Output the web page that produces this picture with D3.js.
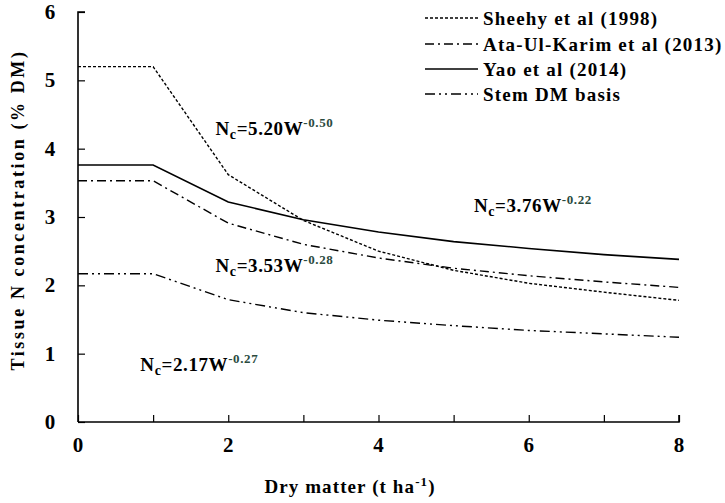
<!DOCTYPE html>
<html><head><meta charset="utf-8">
<script src="https://cdn.jsdelivr.net/npm/d3@7"></script>
<style>body{margin:0;background:#fff}svg{display:block}</style>
</head><body>
<svg id="c" width="725" height="503"></svg>
<script>
const dryMatter = [0,1,2,3,4,5,6,7,8];
const sheehy = [5.20,5.20,3.62,2.95,2.50,2.22,2.03,1.90,1.78];
const ataUlKarim = [3.53,3.53,2.91,2.60,2.40,2.25,2.14,2.05,1.97];
const yao = [3.76,3.76,3.22,2.96,2.78,2.64,2.54,2.45,2.38];
const stemDM = [2.17,2.17,1.79,1.60,1.49,1.41,1.34,1.29,1.24];
const seriesNames = ["Sheehy et al (1998)","Ata-Ul-Karim et al (2013)","Yao  et al (2014)","Stem DM basis"];
const xTicks = [0,2,4,6,8];
const yTicks = [0,1,2,3,4,5,6];
const equations = [["2.17","-0.27",0.83,0.75],["3.53","-0.28",1.83,2.2],["5.20","-0.50",1.83,4.2],["3.76","-0.22",5.27,3.07]];

const FONT = "Liberation Serif";
const dashes = ["3,2","9,4,2,4","none","10,4,2,4,2,4"];
const allSeries = [sheehy, ataUlKarim, yao, stemDM];

const svg = d3.select("#c");
const x = d3.scaleLinear().domain([0,8]).range([78,679]);
const y = d3.scaleLinear().domain([0,6]).range([422,12]);

// axes
const gx = svg.append("g").attr("transform","translate(0,422)")
  .call(d3.axisTop(x).ticks(8).tickSize(7).tickFormat(""));
const gy = svg.append("g").attr("transform","translate(78,0)")
  .call(d3.axisRight(y).tickValues(yTicks).tickSize(7).tickFormat(""));
[gx,gy].forEach(g=>{g.select(".domain").attr("stroke","#000").attr("stroke-width",1.6);
  g.selectAll(".tick line").attr("stroke","#000").attr("stroke-width",1.2);});
gx.select(".domain").attr("d","M78,0H679V-7");
gy.select(".domain").attr("d","M7,12H0V422");

svg.selectAll(".xl").data(xTicks).enter().append("text")
  .attr("x",d=>x(d)).attr("y",452).attr("text-anchor","middle").attr("font-family",FONT)
  .attr("font-size",21).attr("font-weight","bold").text(d=>d);
svg.selectAll(".yl").data(yTicks).enter().append("text")
  .attr("x",50).attr("y",d=>y(d)+7).attr("text-anchor","middle").attr("font-family",FONT)
  .attr("font-size",21).attr("font-weight","bold").text(d=>d);

svg.append("text").attr("transform","translate(24,210) rotate(-90)").attr("font-family",FONT)
  .attr("text-anchor","middle").attr("font-size",18).attr("font-weight","bold").attr("letter-spacing",2.6)
  .text("Tissue N concentration  (% DM)");
const xt = svg.append("text").attr("x",350).attr("y",493).attr("text-anchor","middle").attr("font-family",FONT)
  .attr("font-size",19).attr("font-weight","bold").attr("letter-spacing",1.1);
xt.append("tspan").text("Dry matter (t ha");
xt.append("tspan").attr("dy",-7).attr("font-size",13).text("-1");
xt.append("tspan").attr("dy",7).text(")");

// lines
const line = d3.line().x((d,i)=>x(dryMatter[i])).y(d=>y(d));
allSeries.forEach((s,i)=>{
  svg.append("path").datum(s).attr("d",line).attr("fill","none")
    .attr("stroke","#000").attr("stroke-width",i===2?1.6:1.4)
    .attr("stroke-dasharray",dashes[i]);
});

// legend
const ly = [18,44,69,94];
seriesNames.forEach((n,i)=>{
  svg.append("line").attr("x1",425).attr("x2",478).attr("y1",ly[i]).attr("y2",ly[i])
    .attr("stroke","#000").attr("stroke-width",i===2?1.6:1.4).attr("stroke-dasharray",dashes[i]);
  svg.append("text").attr("x",483).attr("y",ly[i]+7).attr("font-size",19).attr("font-family",FONT)
    .attr("font-weight","bold").attr("letter-spacing",1.2).text(n);
});

// equations
equations.forEach(e=>{
  const t = svg.append("text").attr("x",x(e[2])).attr("y",y(e[3])).attr("font-family",FONT)
    .attr("font-size",19).attr("font-weight","bold").attr("letter-spacing",0.6);
  t.append("tspan").text("N");
  t.append("tspan").attr("dy",4).attr("font-size",14).text("c");
  t.append("tspan").attr("dy",-4).text("="+e[0]+"W");
  t.append("tspan").attr("dy",-8).attr("font-size",13).attr("fill","#2a4a3e").text(e[1]);
});
</script>
</body></html>
